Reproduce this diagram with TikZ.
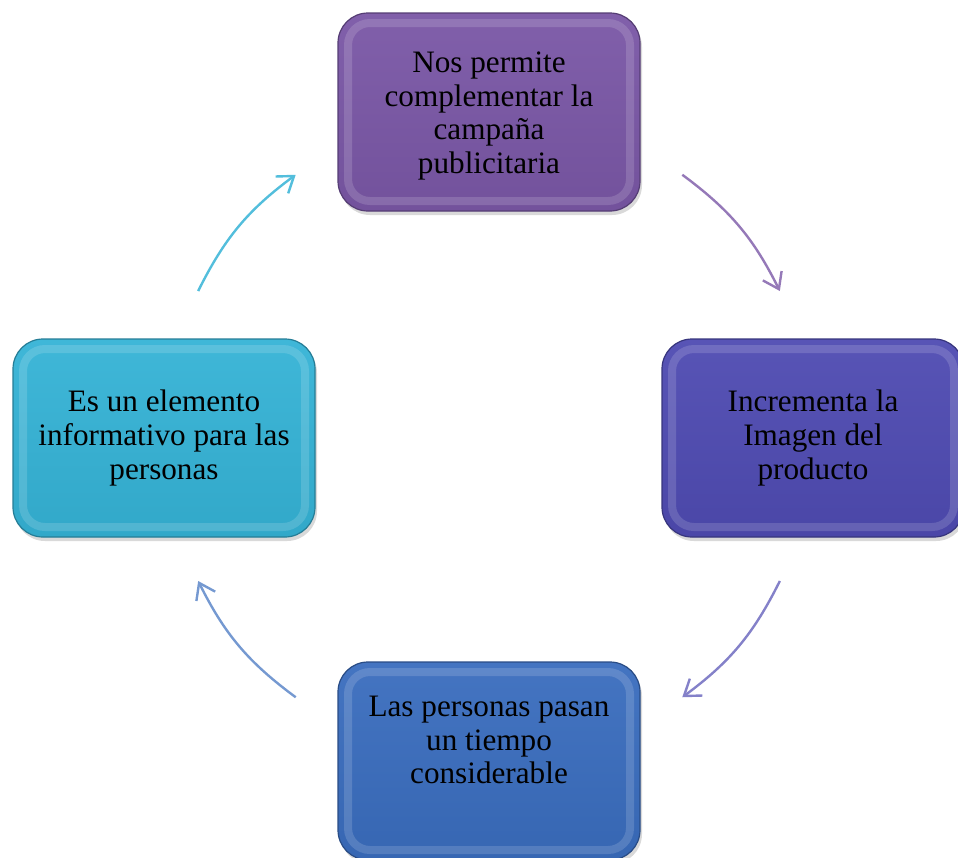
\documentclass[tikz,border=0pt]{standalone}
\usepackage{fontspec}
\setmainfont{Liberation Serif}
\usetikzlibrary{arrows.meta, calc, shadows}

\definecolor{violeta}{HTML}{7A57A6}
\definecolor{indigo}{HTML}{4F4BB2}
\definecolor{azul}{HTML}{3A6DBE}
\definecolor{celeste}{HTML}{35B3D6}

\begin{document}
\begin{tikzpicture}[x=0.5pt, y=0.5pt,
paso/.style={rectangle, rounded corners=15pt, minimum width=151pt, minimum height=99pt,
  align=center, font=\fontsize{15.6}{16.8}\selectfont, draw=#1!70!black, line width=.6pt,
  top color=#1!95!white, bottom color=#1!94!black,
  drop shadow={shadow xshift=1pt, shadow yshift=-2pt, opacity=.3},
  path picture={
    \draw [white, opacity=.15, line width=4pt, rounded corners=11pt]
      ([shift={(5pt,5pt)}]path picture bounding box.south west) rectangle
      ([shift={(-5pt,-5pt)}]path picture bounding box.north east);}},
flecha/.style={draw=#1, line width=1.2pt, -{Straight Barb[length=7.5pt, width=10.5pt]}}]

\useasboundingbox (0,0) rectangle (958,-857);

% centre of the cycle
\coordinate (c) at (489,-436);

\node (arriba) [paso=violeta] at (489,-112) {};
\node (arribaT) [align=center, font=\fontsize{15.6}{16.8}\selectfont] at (489,-116) {Nos permite\\complementar la\\campaña\\publicitaria};
\node (der) [paso=indigo] at (813,-438) {Incrementa la\\Imagen del\\producto};
\node (abajo) [paso=azul] at (489,-761) {};
\node (abajoT) [align=center, font=\fontsize{15.6}{16.8}\selectfont] at (489,-740) {Las personas pasan\\un tiempo\\considerable};
\node (izq) [paso=celeste] at (164,-438) {Es un elemento\\informativo para las\\personas};

% arrow ends on the circle around (c)
\coordinate (a1) at ($(c)+(53.5:325)$);
\coordinate (b1) at ($(c)+(26.5:325)$);
\coordinate (a2) at ($(c)+(-26.5:325)$);
\coordinate (b2) at ($(c)+(-53.5:325)$);
\coordinate (a3) at ($(c)+(-126.5:325)$);
\coordinate (b3) at ($(c)+(-153.5:325)$);
\coordinate (a4) at ($(c)+(153.5:325)$);
\coordinate (b4) at ($(c)+(126.5:325)$);

\draw [flecha=violeta!80!white] (a1) to [bend left=13.5] (b1);
\draw [flecha=indigo!70!white] (a2) to [bend left=13.5] (b2);
\draw [flecha=azul!70!white] (a3) to [bend left=13.5] (b3);
\draw [flecha=celeste!85!white] (a4) to [bend left=13.5] (b4);
\end{tikzpicture}
\end{document}
